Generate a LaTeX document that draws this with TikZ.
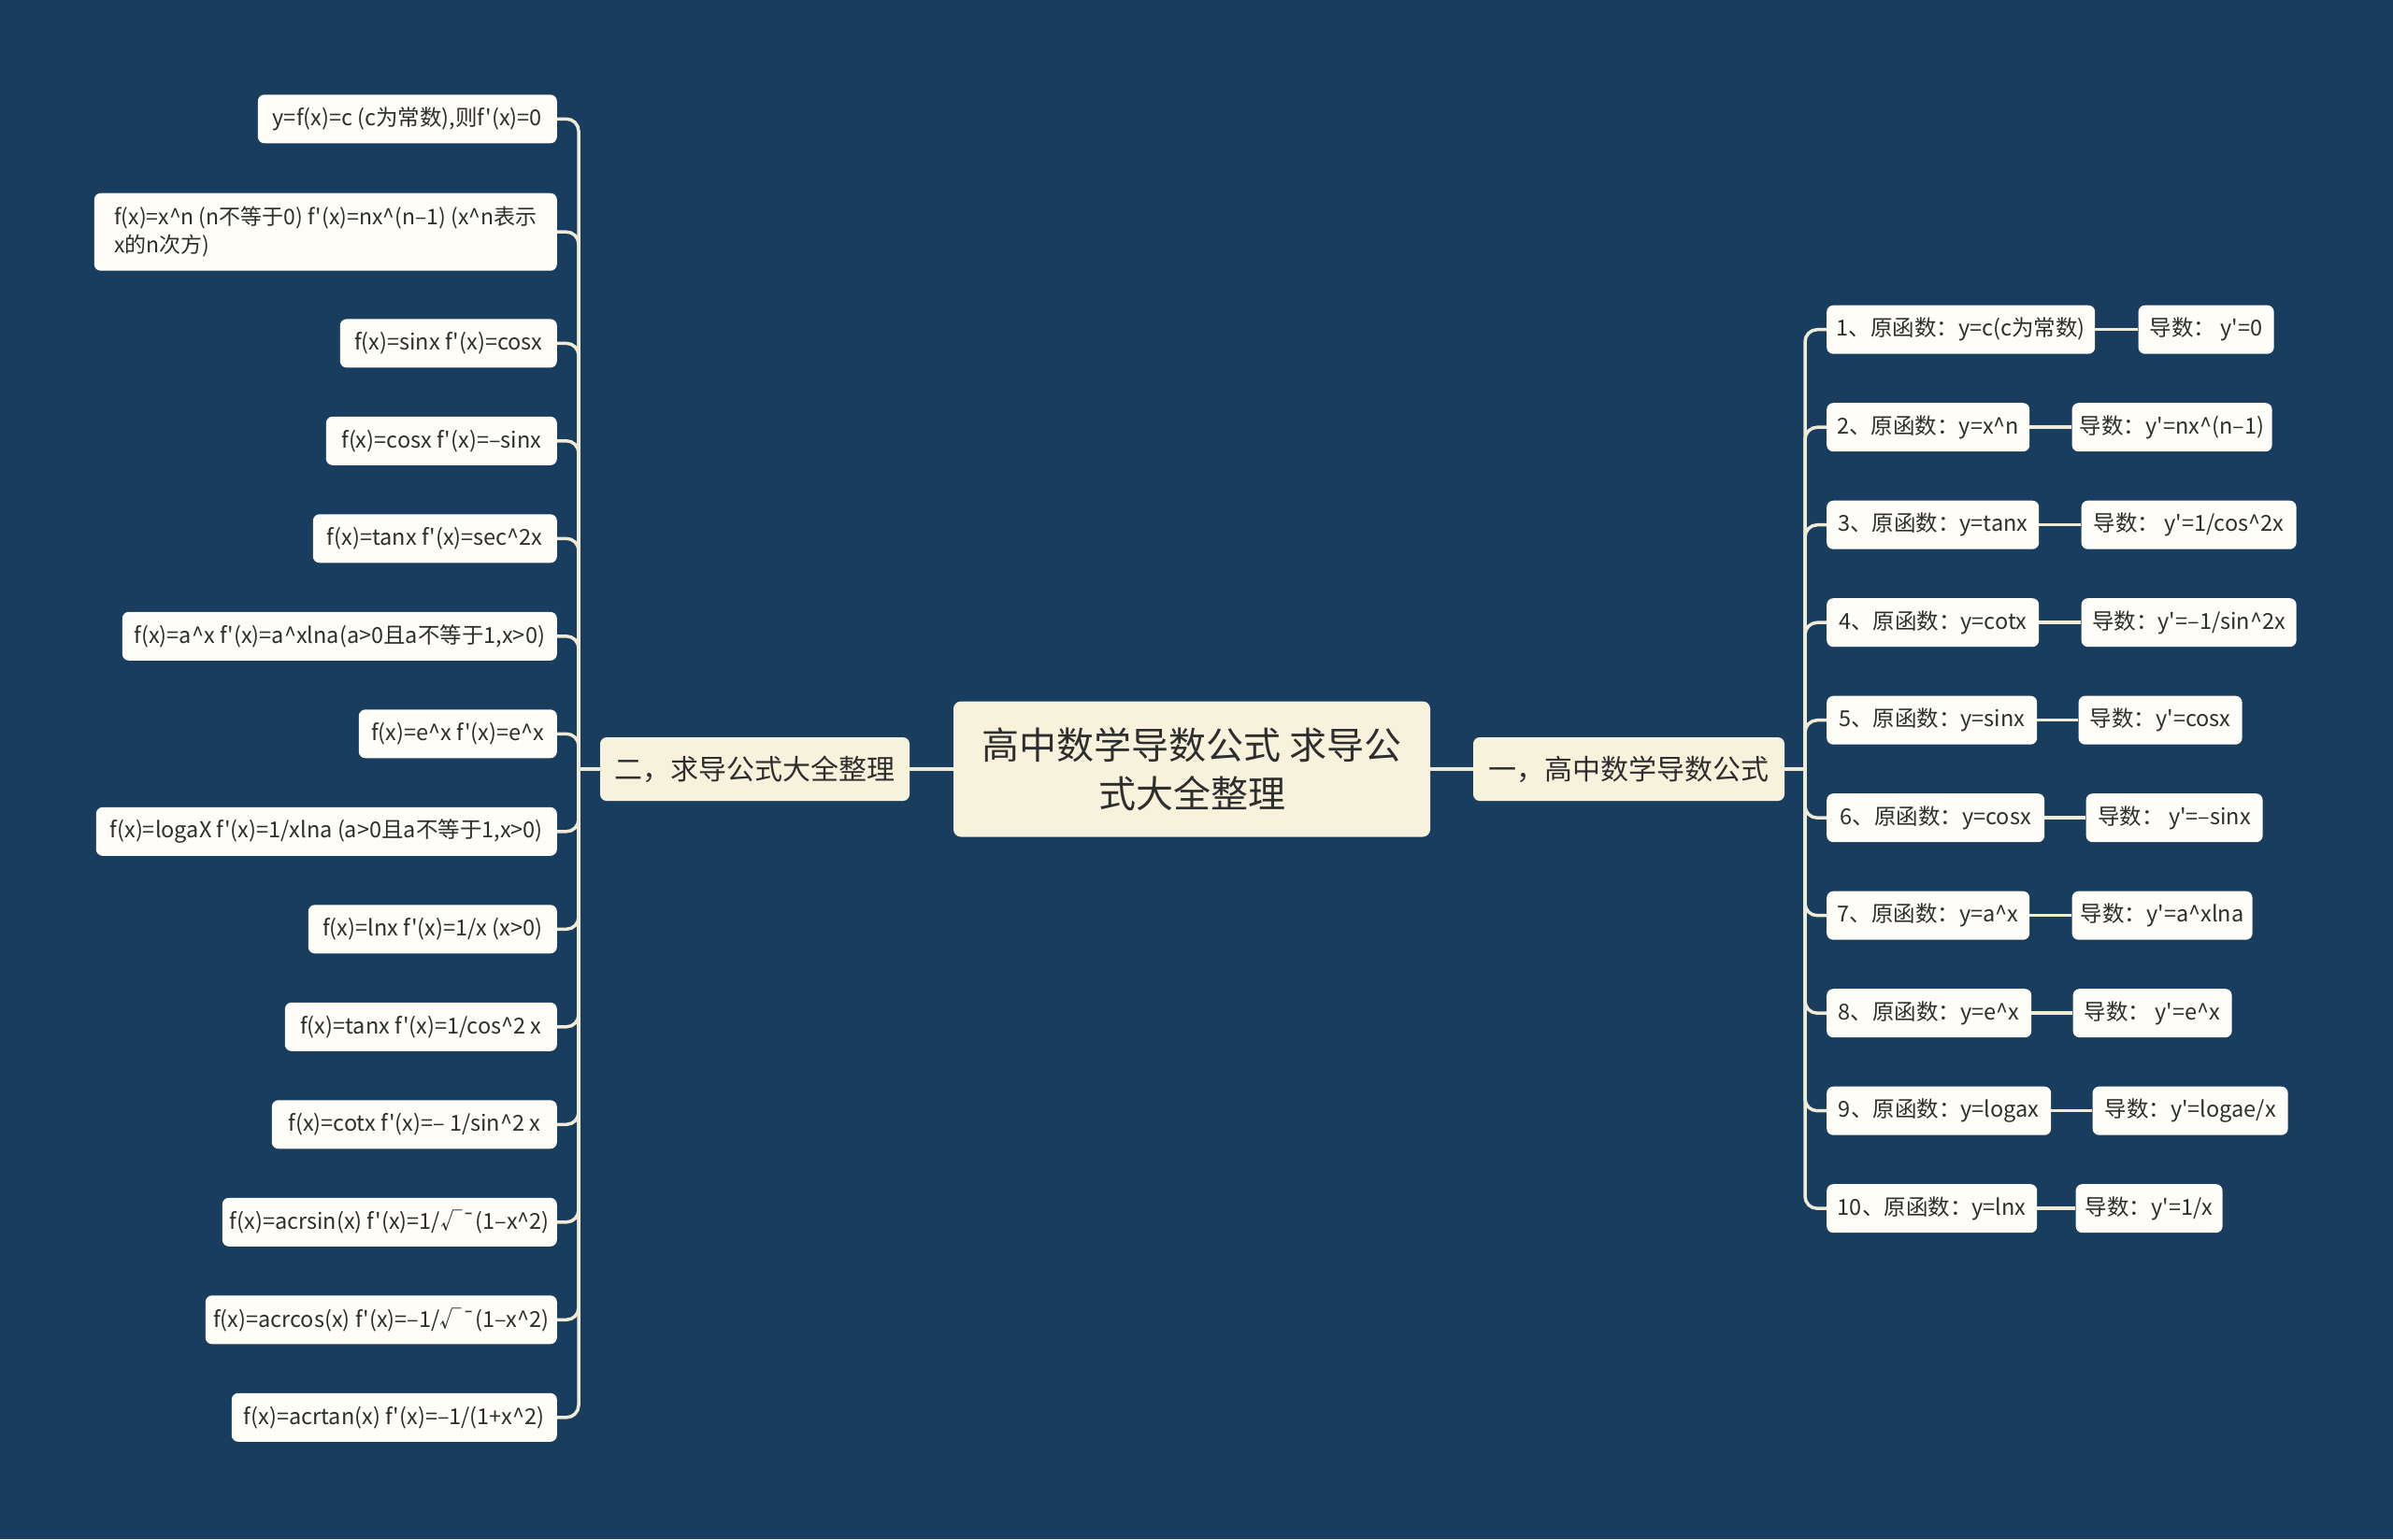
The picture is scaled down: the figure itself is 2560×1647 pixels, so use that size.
\documentclass[tikz,border=0pt]{standalone}
\usepackage{fontspec}
\newfontfamily\cjk{Noto Sans CJK SC}
\newcommand\crt{\textasciicircum}
\definecolor{bg}{HTML}{183D5E}
\definecolor{rootfill}{HTML}{F7F2DC}
\definecolor{leaffill}{HTML}{FEFDF8}
\definecolor{linec}{HTML}{EFEBD6}
\definecolor{txt}{HTML}{2E2E2E}
\tikzset{
  rootbox/.style={fill=rootfill, rounded corners=8pt, text=txt, align=center,
    font=\cjk\fontsize{40pt}{52pt}\selectfont, minimum width=510pt, minimum height=145pt, inner sep=10pt},
  mainbox/.style={fill=rootfill, rounded corners=7pt, text=txt,
    font=\cjk\fontsize{30pt}{36pt}\selectfont, minimum height=68pt, inner xsep=15pt},
  leaf/.style={fill=leaffill, rounded corners=7pt, text=txt,
    font=\cjk\fontsize{23.5pt}{30pt}\selectfont, minimum height=52pt, inner xsep=8pt},
  link/.style={draw=linec, line width=3.5pt},
  blink/.style={draw=linec, line width=3.5pt, rounded corners=13pt}
}
\begin{document}
\begin{tikzpicture}[x=1pt,y=-1pt]
\fill[bg] (0,0) rectangle (2560,1647);
\useasboundingbox (0,0) rectangle (2560,1647);

% root and main branches
\node[rootbox] (root) at (1275,823) {高中数学导数公式 求导公\\式大全整理};
\node[mainbox, minimum width=333pt] (mR) at (1742.5,823) {一，高中数学导数公式};
\node[mainbox, minimum width=331pt] (mL) at (807.5,823) {二，求导公式大全整理};
\draw[link] (root.east) -- (mR.west);
\draw[link] (root.west) -- (mL.east);

\coordinate (jR) at (1931,823);
\coordinate (jL) at (619,823);
\draw[link] (mR.east) -- (jR);
\draw[link] (mL.west) -- (jL);

% right children
\node[leaf, anchor=west, minimum width=287pt] (r1) at (1954,352.7) {1、原函数：y=c(c为常数)};
\node[leaf, anchor=west, minimum width=217pt] (r2) at (1954,457.2) {2、原函数：y=x\crt n};
\node[leaf, anchor=west, minimum width=227pt] (r3) at (1954,561.7) {3、原函数：y=tanx};
\node[leaf, anchor=west, minimum width=227pt] (r4) at (1954,666.2) {4、原函数：y=cotx};
\node[leaf, anchor=west, minimum width=225pt] (r5) at (1954,770.7) {5、原函数：y=sinx};
\node[leaf, anchor=west, minimum width=233pt] (r6) at (1954,875.2) {6、原函数：y=cosx};
\node[leaf, anchor=west, minimum width=217pt] (r7) at (1954,979.7) {7、原函数：y=a\crt x};
\node[leaf, anchor=west, minimum width=219pt] (r8) at (1954,1084.2) {8、原函数：y=e\crt x};
\node[leaf, anchor=west, minimum width=240pt] (r9) at (1954,1188.7) {9、原函数：y=logax};
\node[leaf, anchor=west, minimum width=225pt] (r10) at (1954,1293.2) {10、原函数：y=lnx};

\node[leaf, anchor=west, minimum width=145pt] (d1) at ([xshift=46pt]r1.east) {导数： y'=0};
\node[leaf, anchor=west, minimum width=214pt] (d2) at ([xshift=45pt]r2.east) {导数：y'=nx\crt(n–1)};
\node[leaf, anchor=west, minimum width=230pt] (d3) at ([xshift=45pt]r3.east) {导数： y'=1/cos\crt 2x};
\node[leaf, anchor=west, minimum width=230pt] (d4) at ([xshift=45pt]r4.east) {导数：y'=–1/sin\crt 2x};
\node[leaf, anchor=west, minimum width=175pt] (d5) at ([xshift=44pt]r5.east) {导数：y'=cosx};
\node[leaf, anchor=west, minimum width=189pt] (d6) at ([xshift=44pt]r6.east) {导数： y'=–sinx};
\node[leaf, anchor=west, minimum width=193pt] (d7) at ([xshift=45pt]r7.east) {导数：y'=a\crt xlna};
\node[leaf, anchor=west, minimum width=170pt] (d8) at ([xshift=44pt]r8.east) {导数： y'=e\crt x};
\node[leaf, anchor=west, minimum width=209pt] (d9) at ([xshift=44pt]r9.east) {导数：y'=logae/x};
\node[leaf, anchor=west, minimum width=157pt] (d10) at ([xshift=41pt]r10.east) {导数：y'=1/x};

\foreach \i in {1,...,10} {
  \draw[blink] (jR) |- (r\i.west);
  \draw[link] (r\i.east) -- (d\i.west);
}

% left children
\node[leaf, anchor=east, minimum width=320pt] (l1) at (596,127.3) {y=f(x)=c (c为常数),则f'(x)=0};
\node[leaf, anchor=east, minimum width=495pt, minimum height=83pt, align=left, font=\cjk\fontsize{23pt}{30pt}\selectfont] (l2) at (596,248.2) {f(x)=x\crt n (n不等于0) f'(x)=nx\crt(n–1) (x\crt n表示\\x的n次方)};
\node[leaf, anchor=east, minimum width=232pt] (l3) at (596,367.4) {f(x)=sinx f'(x)=cosx};
\node[leaf, anchor=east, minimum width=247pt] (l4) at (596,471.8) {f(x)=cosx f'(x)=–sinx};
\node[leaf, anchor=east, minimum width=261pt] (l5) at (596,576.3) {f(x)=tanx f'(x)=sec\crt 2x};
\node[leaf, anchor=east, minimum width=465pt] (l6) at (596,680.8) {f(x)=a\crt x f'(x)=a\crt xlna(a>0且a不等于1,x>0)};
\node[leaf, anchor=east, minimum width=212pt] (l7) at (596,785.3) {f(x)=e\crt x f'(x)=e\crt x};
\node[leaf, anchor=east, minimum width=493pt] (l8) at (596,889.8) {f(x)=logaX f'(x)=1/xlna (a>0且a不等于1,x>0)};
\node[leaf, anchor=east, minimum width=266pt] (l9) at (596,994.3) {f(x)=lnx f'(x)=1/x (x>0)};
\node[leaf, anchor=east, minimum width=291pt] (l10) at (596,1098.8) {f(x)=tanx f'(x)=1/cos\crt 2 x};
\node[leaf, anchor=east, minimum width=305pt] (l11) at (596,1203.3) {f(x)=cotx f'(x)=– 1/sin\crt 2 x};
\node[leaf, anchor=east, minimum width=354pt] (l12) at (596,1307.8) {f(x)=acrsin(x) f'(x)=1/√¯(1–x\crt 2)};
\node[leaf, anchor=east, minimum width=376pt] (l13) at (596,1412.3) {f(x)=acrcos(x) f'(x)=–1/√¯(1–x\crt 2)};
\node[leaf, anchor=east, minimum width=348pt] (l14) at (596,1516.8) {f(x)=acrtan(x) f'(x)=–1/(1+x\crt 2)};

\foreach \i in {1,...,14} {
  \draw[blink] (jL) |- (l\i.east);
}
\end{tikzpicture}
\end{document}
